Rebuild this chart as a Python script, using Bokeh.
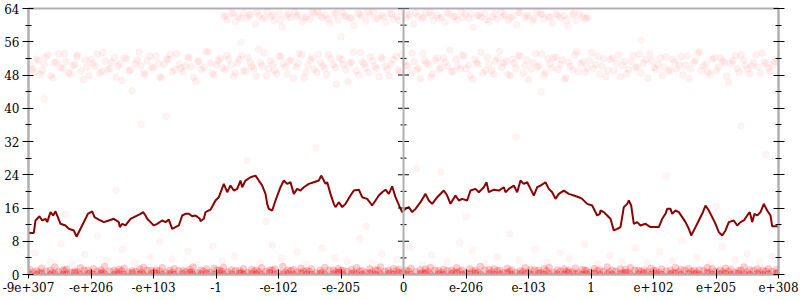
from bokeh.plotting import figure
from bokeh.models import Range1d, FixedTicker, LinearAxis, Span
from bokeh.embed import file_html
from bokeh.resources import INLINE

# ---------------- data ----------------
tick_labels = ["-9e+307", "-e+206", "-e+103", "-1", "-e-102", "-e-205", "0",
               "e-206", "e-103", "1", "e+102", "e+205", "e+308"]
y_ticks = [0, 8, 16, 24, 32, 40, 48, 56, 64]
y_minor = [4, 12, 20, 28, 36, 44, 52, 60]

# smoothed (running) series, x in tick-index units
line_x = [0, 0.085, 0.112, 0.176, 0.219, 0.272, 0.299, 0.352, 0.395, 0.432, 0.469, 0.512,
          0.592, 0.645, 0.725, 0.768, 0.832, 0.912, 0.949, 1.019, 1.056, 1.125, 1.205, 1.285,
          1.365, 1.445, 1.461, 1.499, 1.552, 1.632, 1.712, 1.792, 1.835, 1.872, 1.899, 1.952,
          2.005, 2.059, 2.139, 2.192, 2.245, 2.299, 2.352, 2.405, 2.459, 2.512, 2.565, 2.619,
          2.672, 2.741, 2.752, 2.805, 2.832, 2.912, 2.992, 3.045, 3.125, 3.179, 3.232, 3.285,
          3.339, 3.392, 3.419, 3.472, 3.552, 3.632, 3.685, 3.739, 3.792, 3.819, 3.845, 3.899,
          3.952, 4.032, 4.085, 4.139, 4.192, 4.245, 4.299, 4.352, 4.405, 4.485, 4.565, 4.645,
          4.683, 4.725, 4.752, 4.779, 4.832, 4.885, 4.912, 4.965, 5.019, 5.072, 5.152, 5.205,
          5.285, 5.339, 5.419, 5.499, 5.552, 5.605, 5.659, 5.712, 5.765, 5.819, 5.872, 5.941,
          5.979, 6.032, 6.085, 6.139, 6.192, 6.272, 6.352, 6.405, 6.459, 6.539, 6.645, 6.699,
          6.752, 6.832, 6.885, 6.939, 7.019, 7.072, 7.152, 7.205, 7.285, 7.328, 7.365, 7.445,
          7.525, 7.605, 7.632, 7.685, 7.765, 7.819, 7.872, 7.925, 7.979, 8.032, 8.085, 8.139,
          8.192, 8.272, 8.325, 8.379, 8.432, 8.485, 8.565, 8.645, 8.725, 8.805, 8.859, 8.939,
          9.019, 9.099, 9.141, 9.152, 9.205, 9.259, 9.312, 9.365, 9.419, 9.472, 9.525, 9.579,
          9.605, 9.643, 9.685, 9.739, 9.792, 9.872, 9.952, 10.032, 10.085, 10.139, 10.192, 10.219,
          10.272, 10.299, 10.352, 10.405, 10.459, 10.512, 10.565, 10.603, 10.672, 10.725, 10.779, 10.832,
          10.885, 10.939, 10.992, 11.045, 11.099, 11.152, 11.205, 11.285, 11.339, 11.392, 11.445, 11.499,
          11.541, 11.579, 11.616, 11.659, 11.712, 11.765, 11.819, 11.872, 11.899, 12.0]
line_y = [10.0, 10.0, 13.0, 14.0, 13.0, 13.4, 12.6, 15.0, 14.2, 15.2, 13.8, 12.2,
          11.8, 11.0, 10.6, 9.1, 11.0, 13.4, 14.6, 15.2, 13.8, 13.2, 12.6, 13.0,
          13.4, 12.6, 11.4, 12.2, 11.8, 13.4, 14.0, 14.6, 15.0, 14.2, 13.4, 12.6,
          11.8, 12.2, 13.0, 12.6, 13.2, 11.0, 11.4, 11.8, 14.2, 14.6, 14.6, 14.0,
          14.2, 13.4, 12.8, 13.4, 15.0, 15.6, 17.8, 18.6, 21.8, 19.8, 21.4, 20.2,
          20.6, 22.6, 21.0, 22.6, 23.4, 23.8, 22.6, 21.4, 19.4, 17.0, 15.8, 15.4,
          17.8, 21.0, 22.6, 21.8, 22.2, 19.4, 20.6, 20.2, 21.0, 21.8, 22.2, 22.6,
          23.8, 22.6, 21.8, 22.2, 19.4, 17.0, 16.2, 17.4, 16.2, 17.0, 19.0, 20.2,
          20.4, 18.6, 18.2, 16.6, 17.8, 19.0, 19.8, 20.4, 19.4, 21.2, 18.6, 16.2,
          15.0, 15.8, 16.2, 15.0, 15.8, 17.4, 19.4, 17.8, 17.0, 18.6, 20.2, 19.0,
          17.0, 19.0, 17.8, 18.2, 17.8, 20.2, 20.6, 19.8, 21.0, 22.2, 19.8, 20.4,
          20.2, 21.0, 19.8, 20.6, 21.4, 19.8, 22.6, 21.8, 22.2, 20.6, 19.0, 21.0,
          21.4, 22.2, 20.6, 19.8, 18.2, 19.4, 20.2, 19.4, 19.0, 18.6, 18.2, 17.0,
          16.6, 14.2, 14.6, 15.4, 15.0, 14.2, 13.4, 10.6, 11.0, 11.4, 16.2, 17.0,
          17.8, 16.6, 12.2, 12.6, 11.8, 12.2, 11.4, 11.4, 11.4, 13.4, 14.6, 15.8,
          15.8, 14.6, 15.4, 15.0, 13.8, 12.6, 11.0, 9.4, 11.4, 13.0, 14.6, 16.6,
          15.4, 13.8, 12.2, 10.2, 9.4, 10.6, 12.6, 13.0, 11.8, 12.6, 13.0, 14.2,
          15.0, 12.6, 14.6, 14.2, 15.0, 17.0, 15.4, 14.2, 11.6, 11.6]

# dense band of samples near zero
low_x = [0.02, 0.13, 0.21, 0.35, 0.42, 0.55, 0.61, 0.74, 0.83, 0.95, 1.04, 1.16, 1.22, 1.37, 1.45,
         1.53, 1.66, 1.78, 1.84, 1.97, 2.05, 2.14, 2.26, 2.33, 2.47, 2.58, 2.63, 2.76, 2.85, 2.97,
         3.06, 3.12, 3.25, 3.38, 3.44, 3.57, 3.65, 3.73, 3.86, 3.94, 4.07, 4.15, 4.24, 4.36, 4.45,
         4.53, 4.67, 4.74, 4.88, 4.96, 5.03, 5.17, 5.25, 5.34, 5.46, 5.55, 5.63, 5.76, 5.84, 5.93,
         6.04, 6.12, 6.27, 6.35, 6.43, 6.56, 6.64, 6.77, 6.85, 6.94, 7.06, 7.15, 7.23, 7.37, 7.45,
         7.54, 7.66, 7.73, 7.87, 7.95, 8.04, 8.16, 8.25, 8.33, 8.46, 8.57, 8.64, 8.75, 8.86, 8.93,
         9.05, 9.14, 9.26, 9.34, 9.47, 9.55, 9.63, 9.76, 9.85, 9.96, 10.04, 10.13, 10.27, 10.35, 10.44,
         10.56, 10.65, 10.73, 10.86, 10.94, 11.07, 11.15, 11.24, 11.36, 11.45, 11.54, 11.66, 11.75, 11.84, 11.97]
low_y0 = [0.1, 0.0, 0.3, 0.0, 0.2, 0.0, 0.1, 0.4, 0.0, 0.2, 0.0, 0.3, 0.1, 0.0, 0.2,
          0.0, 0.4, 0.1, 0.0, 0.2, 0.3, 0.0, 0.1, 0.0, 0.2, 0.4, 0.0, 0.1, 0.3, 0.0,
          0.2, 0.0, 0.1, 0.3, 0.0, 0.2, 0.1, 0.0, 0.4, 0.0, 0.1, 0.2, 0.0, 0.3, 0.1,
          0.0, 0.2, 0.0, 0.1, 0.4, 0.0, 0.2, 0.1, 0.0, 0.3, 0.0, 0.1, 0.2, 0.0, 0.4,
          0.1, 0.0, 0.2, 0.3, 0.0, 0.1, 0.0, 0.2, 0.4, 0.0, 0.1, 0.3, 0.0, 0.2, 0.0,
          0.1, 0.4, 0.0, 0.2, 0.1, 0.0, 0.3, 0.0, 0.2, 0.1, 0.0, 0.4, 0.1, 0.0, 0.2,
          0.3, 0.0, 0.1, 0.0, 0.2, 0.4, 0.0, 0.1, 0.3, 0.0, 0.2, 0.0, 0.1, 0.3, 0.0,
          0.2, 0.1, 0.0, 0.4, 0.0, 0.1, 0.2, 0.0, 0.3, 0.1, 0.0, 0.2, 0.0, 0.1, 0.3]
low_y1 = [1.2, 0.9, 1.5, 1.0, 1.8, 1.1, 1.3, 0.8, 1.6, 1.0, 1.4, 1.1, 1.9, 1.0, 1.2,
          1.5, 0.9, 1.3, 1.7, 1.0, 1.1, 1.6, 1.0, 1.4, 0.9, 1.2, 1.8, 1.0, 1.3, 1.5,
          1.0, 1.7, 1.1, 0.9, 1.4, 1.2, 1.0, 1.6, 1.1, 1.3, 1.9, 1.0, 1.2, 1.5, 0.9,
          1.3, 1.0, 1.7, 1.1, 1.4, 1.0, 1.2, 1.6, 0.9, 1.3, 1.1, 1.8, 1.0, 1.4, 1.2,
          1.0, 1.5, 1.1, 1.3, 1.7, 0.9, 1.2, 1.0, 1.6, 1.1, 1.4, 1.0, 1.9, 1.2, 1.3,
          1.0, 1.5, 1.1, 0.9, 1.6, 1.2, 1.0, 1.4, 1.7, 1.1, 1.3, 1.0, 1.5, 1.2, 0.9,
          1.4, 1.1, 1.8, 1.0, 1.3, 1.2, 1.6, 1.0, 1.1, 1.5, 0.9, 1.3, 1.0, 1.7, 1.2,
          1.4, 1.0, 1.1, 1.6, 1.3, 1.0, 1.5, 1.2, 0.9, 1.8, 1.1, 1.3, 1.0, 1.4, 1.2]
low_x2 = [0.07, 0.17, 0.28, 0.38, 0.48, 0.58, 0.68, 0.78, 0.89, 0.99, 1.1, 1.19, 1.3, 1.41, 1.49,
          1.6, 1.72, 1.81, 1.9, 2.01, 2.1, 2.2, 2.3, 2.4, 2.52, 2.61, 2.7, 2.8, 2.91, 3.02,
          3.09, 3.19, 3.31, 3.41, 3.5, 3.61, 3.69, 3.8, 3.9, 4.0, 4.11, 4.2, 4.3, 4.4, 4.49,
          4.6, 4.7, 4.81, 4.92, 5.0, 5.1, 5.21, 5.3, 5.4, 5.5, 5.59, 5.7, 5.8, 5.89, 5.99,
          6.08, 6.2, 6.31, 6.39, 6.5, 6.6, 6.7, 6.81, 6.9, 7.0, 7.1, 7.19, 7.3, 7.41, 7.5,
          7.6, 7.7, 7.8, 7.91, 8.0, 8.1, 8.2, 8.29, 8.4, 8.51, 8.6, 8.7, 8.8, 8.9, 8.99,
          9.1, 9.2, 9.3, 9.4, 9.51, 9.59, 9.7, 9.8, 9.9, 10.0, 10.09, 10.2, 10.31, 10.4, 10.5,
          10.6, 10.69, 10.8, 10.9, 11.0, 11.11, 11.2, 11.3, 11.4, 11.5, 11.6, 11.7, 11.8, 11.9, 11.99]
low_y2 = [0.6, 0.5, 0.8, 0.4, 0.7, 0.9, 0.5, 0.6, 1.0, 0.4, 0.7, 0.5, 0.8, 0.6, 0.9,
          0.4, 0.7, 0.5, 1.0, 0.6, 0.8, 0.4, 0.5, 0.9, 0.7, 0.6, 0.4, 0.8, 0.5, 1.0,
          0.7, 0.6, 0.9, 0.4, 0.5, 0.8, 0.6, 0.7, 1.0, 0.4, 0.5, 0.9, 0.6, 0.8, 0.7,
          0.4, 0.5, 1.0, 0.6, 0.9, 0.7, 0.4, 0.8, 0.5, 0.6, 1.0, 0.7, 0.4, 0.9, 0.5,
          0.8, 0.6, 0.4, 0.7, 1.0, 0.5, 0.9, 0.6, 0.8, 0.4, 0.7, 0.5, 1.0, 0.6, 0.9,
          0.4, 0.8, 0.5, 0.7, 0.6, 1.0, 0.4, 0.9, 0.5, 0.8, 0.7, 0.6, 0.4, 1.0, 0.5,
          0.9, 0.7, 0.6, 0.8, 0.4, 0.5, 1.0, 0.7, 0.6, 0.9, 0.4, 0.8, 0.5, 0.6, 1.0,
          0.7, 0.4, 0.9, 0.5, 0.8, 0.6, 0.7, 0.4, 1.0, 0.5, 0.9, 0.6, 0.8, 0.7, 0.4]

# band of samples around 48-54
mid_x = [0.03, 0.09, 0.16, 0.22, 0.27, 0.36, 0.41, 0.48, 0.55, 0.6, 0.67, 0.74, 0.79, 0.88, 0.93,
         1.0, 1.06, 1.14, 1.19, 1.27, 1.33, 1.4, 1.46, 1.53, 1.61, 1.66, 1.74, 1.8, 1.87, 1.94,
         2.0, 2.08, 2.13, 2.21, 2.27, 2.34, 2.41, 2.47, 2.55, 2.6, 2.68, 2.73, 2.81, 2.88, 2.94,
         3.01, 3.07, 3.15, 3.2, 3.28, 3.34, 3.41, 3.47, 3.55, 3.6, 3.68, 3.74, 3.81, 3.87, 3.94,
         4.01, 4.07, 4.14, 4.2, 4.28, 4.33, 4.41, 4.47, 4.54, 4.61, 4.67, 4.74, 4.8, 4.88, 4.93,
         5.01, 5.07, 5.14, 5.2, 5.28, 5.34, 5.4, 5.47, 5.54, 5.61, 5.66, 5.74, 5.8, 5.88, 5.94,
         6.01, 6.07, 6.14, 6.21, 6.27, 6.34, 6.41, 6.46, 6.54, 6.6, 6.67, 6.74, 6.8, 6.87, 6.94,
         7.0, 7.07, 7.14, 7.2, 7.27, 7.34, 7.41, 7.47, 7.54, 7.6, 7.67, 7.74, 7.8, 7.87, 7.94,
         8.0, 8.07, 8.14, 8.21, 8.27, 8.34, 8.4, 8.47, 8.54, 8.6, 8.67, 8.74, 8.8, 8.87, 8.94,
         9.01, 9.07, 9.14, 9.2, 9.27, 9.34, 9.41, 9.47, 9.53, 9.6, 9.67, 9.74, 9.8, 9.87, 9.94,
         10.01, 10.07, 10.14, 10.2, 10.27, 10.34, 10.41, 10.47, 10.54, 10.6, 10.67, 10.74, 10.8, 10.87, 10.94,
         11.0, 11.07, 11.14, 11.2, 11.27, 11.34, 11.4, 11.47, 11.54, 11.6, 11.67, 11.74, 11.8, 11.87, 11.94]
mid_y = [50.2, 48.7, 51.5, 49.1, 52.3, 47.8, 50.9, 53.1, 49.6, 51.2, 48.3, 50.5, 52.8, 46.9, 49.9,
         51.7, 50.1, 48.5, 53.4, 49.3, 51.0, 47.5, 50.7, 52.1, 49.0, 44.2, 51.6, 50.3, 48.1, 52.6,
         49.7, 50.8, 47.2, 51.9, 53.0, 49.4, 50.6, 48.8, 52.4, 50.0, 46.5, 51.3, 49.8, 53.6, 48.4,
         50.4, 52.0, 49.2, 51.8, 47.7, 50.9, 52.7, 48.9, 51.1, 49.5, 54.2, 50.2, 47.9, 51.4, 49.1,
         52.5, 50.7, 48.2, 51.6, 49.9, 53.2, 47.4, 50.3, 52.2, 48.6, 51.0, 49.6, 52.9, 50.5, 45.8,
         51.7, 49.3, 50.8, 53.5, 48.0, 51.2, 49.7, 52.4, 50.1, 47.6, 51.9, 49.4, 50.6, 52.6, 48.7,
         51.3, 50.0, 53.3, 49.2, 47.1, 51.5, 50.4, 48.3, 52.1, 49.8, 51.1, 54.0, 48.9, 50.2, 52.8,
         49.5, 47.8, 51.7, 50.6, 48.4, 52.3, 49.0, 51.4, 53.7, 50.9, 48.1, 51.8, 49.6, 52.5, 50.3,
         46.8, 51.0, 49.9, 53.0, 48.6, 50.7, 52.2, 49.3, 51.6, 47.3, 50.1, 52.9, 48.8, 51.2, 49.7,
         53.4, 50.5, 48.2, 51.9, 49.1, 52.0, 50.8, 47.6, 51.3, 49.4, 52.7, 50.0, 48.5, 51.7, 53.1,
         49.8, 50.6, 47.9, 52.4, 49.2, 51.1, 50.4, 48.0, 52.6, 49.5, 51.5, 53.6, 50.2, 48.7, 51.8,
         49.0, 52.1, 50.9, 46.2, 51.4, 49.6, 52.8, 50.3, 48.3, 51.0, 49.9, 53.3, 50.7, 48.9, 51.2]
mid2_x = [0.06, 0.12, 0.19, 0.25, 0.31, 0.39, 0.45, 0.51, 0.58, 0.64, 0.71, 0.77, 0.84, 0.91, 0.97,
          1.03, 1.1, 1.17, 1.23, 1.3, 1.37, 1.43, 1.5, 1.57, 1.63, 1.7, 1.77, 1.84, 1.9, 1.97,
          2.04, 2.1, 2.17, 2.24, 2.3, 2.37, 2.44, 2.51, 2.57, 2.64, 2.71, 2.77, 2.84, 2.91, 2.97,
          3.04, 3.11, 3.17, 3.24, 3.31, 3.37, 3.44, 3.51, 3.57, 3.64, 3.71, 3.77, 3.84, 3.91, 3.97,
          4.04, 4.11, 4.17, 4.24, 4.31, 4.37, 4.44, 4.51, 4.57, 4.64, 4.71, 4.77, 4.84, 4.91, 4.97,
          5.04, 5.11, 5.17, 5.24, 5.31, 5.37, 5.44, 5.51, 5.57, 5.64, 5.71, 5.77, 5.84, 5.91, 5.97,
          6.04, 6.11, 6.17, 6.24, 6.31, 6.37, 6.44, 6.51, 6.57, 6.64, 6.71, 6.77, 6.84, 6.91, 6.97,
          7.04, 7.11, 7.17, 7.24, 7.31, 7.37, 7.44, 7.51, 7.57, 7.64, 7.71, 7.77, 7.84, 7.91, 7.97,
          8.04, 8.11, 8.17, 8.24, 8.31, 8.37, 8.44, 8.51, 8.57, 8.64, 8.71, 8.77, 8.84, 8.91, 8.97,
          9.04, 9.11, 9.17, 9.24, 9.31, 9.37, 9.44, 9.51, 9.57, 9.64, 9.71, 9.77, 9.84, 9.91, 9.97,
          10.04, 10.11, 10.17, 10.24, 10.31, 10.37, 10.44, 10.51, 10.57, 10.64, 10.71, 10.77, 10.84, 10.91, 10.97,
          11.04, 11.11, 11.17, 11.24, 11.31, 11.37, 11.44, 11.51, 11.57, 11.64, 11.71, 11.77, 11.84, 11.91, 11.97]
mid2_y = [49.4, 51.8, 48.2, 50.6, 52.9, 47.3, 51.1, 49.8, 53.2, 48.6, 50.3, 52.4, 49.0, 51.6, 47.9,
          50.8, 53.0, 48.9, 51.3, 49.5, 52.2, 50.1, 46.7, 51.9, 49.2, 50.7, 53.5, 48.4, 51.4, 49.9,
          52.6, 47.6, 50.5, 51.7, 48.8, 53.1, 49.6, 50.2, 52.0, 47.4, 51.2, 49.3, 53.6, 50.9, 48.0,
          51.5, 49.7, 52.7, 50.4, 48.5, 51.8, 49.1, 52.3, 50.0, 47.7, 51.0, 53.3, 49.5, 50.6, 48.3,
          52.5, 49.9, 51.3, 47.2, 50.8, 52.8, 48.7, 51.6, 49.4, 53.0, 50.2, 48.1, 51.9, 49.8, 52.1,
          50.5, 46.4, 51.1, 49.0, 53.4, 50.7, 48.6, 51.4, 49.6, 52.4, 50.1, 47.8, 51.7, 49.2, 52.9,
          50.3, 48.4, 51.2, 49.7, 53.1, 50.9, 47.5, 51.5, 49.3, 52.2, 50.0, 48.8, 51.8, 49.5, 52.6,
          50.4, 47.0, 51.0, 53.5, 49.1, 50.6, 48.2, 52.0, 49.9, 51.3, 47.9, 50.8, 52.7, 48.5, 51.6,
          49.4, 53.2, 50.2, 48.0, 51.9, 49.7, 52.3, 50.5, 46.9, 51.1, 49.2, 53.6, 50.7, 48.7, 51.4,
          49.6, 52.5, 50.1, 47.6, 51.7, 49.0, 52.8, 50.3, 48.3, 51.2, 49.8, 53.0, 50.9, 47.3, 51.5,
          49.3, 52.1, 50.0, 48.9, 51.8, 49.5, 52.4, 50.4, 47.1, 51.0, 53.3, 49.1, 50.6, 48.1, 52.2,
          49.9, 51.3, 47.7, 50.8, 52.6, 48.6, 51.6, 49.4, 50.2, 52.9, 48.4, 51.1, 49.7, 50.5, 51.9]

# band of samples near the top (between -1 and 1)
top_x = [3.12, 3.18, 3.25, 3.31, 3.36, 3.44, 3.5, 3.55, 3.63, 3.69, 3.74, 3.82, 3.88, 3.93, 4.01,
         4.06, 4.13, 4.19, 4.26, 4.31, 4.38, 4.45, 4.5, 4.57, 4.63, 4.7, 4.76, 4.82, 4.89, 4.95,
         5.02, 5.08, 5.14, 5.21, 5.27, 5.33, 5.4, 5.46, 5.52, 5.59, 5.65, 5.71, 5.78, 5.84, 5.9,
         5.97, 6.04, 6.1, 6.16, 6.23, 6.29, 6.35, 6.42, 6.48, 6.54, 6.61, 6.67, 6.73, 6.8, 6.86,
         6.92, 6.99, 7.05, 7.11, 7.18, 7.24, 7.3, 7.37, 7.43, 7.49, 7.56, 7.62, 7.68, 7.75, 7.81,
         7.87, 7.94, 8.0, 8.06, 8.13, 8.19, 8.25, 8.32, 8.38, 8.44, 8.51, 8.57, 8.63, 8.7, 8.76,
         8.82, 8.9, 8.96]
top_y = [62.4, 61.3, 62.9, 60.8, 62.1, 63.0, 61.7, 62.6, 60.2, 62.3, 61.5, 63.2, 62.0, 61.1, 62.7,
         59.6, 62.2, 61.8, 63.1, 62.5, 60.9, 62.0, 61.4, 62.8, 63.3, 61.9, 62.4, 60.5, 62.6, 61.2,
         63.0, 62.2, 61.6, 59.9, 62.9, 62.1, 61.0, 62.5, 63.2, 61.7, 62.3, 60.6, 62.8, 61.4, 62.0,
         63.1, 61.8, 62.5, 60.3, 62.2, 61.5, 62.9, 63.0, 61.1, 62.4, 61.9, 60.7, 62.6, 62.1, 61.3,
         63.2, 62.7, 61.6, 59.4, 62.3, 61.9, 62.8, 60.9, 62.0, 61.4, 63.1, 62.5, 61.2, 62.2, 60.1,
         62.9, 61.7, 62.4, 61.0, 63.0, 62.6, 61.5, 62.1, 60.4, 62.8, 61.8, 62.3, 59.8, 62.5, 61.1,
         62.7, 61.6, 62.0]
top2_x = [3.15, 3.28, 3.4, 3.53, 3.66, 3.78, 3.91, 4.03, 4.16, 4.29, 4.41, 4.54, 4.66, 4.79, 4.92,
          5.05, 5.17, 5.3, 5.43, 5.55, 5.68, 5.81, 5.93, 6.07, 6.19, 6.32, 6.45, 6.57, 6.7, 6.83,
          6.95, 7.08, 7.21, 7.33, 7.46, 7.59, 7.71, 7.84, 7.97, 8.09, 8.22, 8.35, 8.47, 8.6, 8.73,
          8.86, 8.93]
top2_y = [62.0, 62.7, 61.6, 62.3, 63.0, 61.9, 62.5, 61.2, 62.8, 62.1, 61.7, 63.1, 62.4, 61.5, 62.9,
          62.2, 61.8, 62.6, 63.2, 61.4, 62.0, 62.7, 61.1, 62.5, 62.9, 61.9, 62.3, 61.6, 63.0, 62.1,
          61.8, 62.6, 62.4, 61.3, 62.8, 62.0, 61.7, 63.1, 62.2, 61.5, 62.7, 61.9, 62.4, 61.2, 62.9,
          62.1, 61.6]

# scattered samples elsewhere
sparse_x = [0.1, 0.35, 0.52, 0.7, 0.9, 1.1, 1.25, 1.5, 1.7, 1.95, 2.1, 2.3, 2.55, 2.7, 2.95,
            3.1, 3.3, 3.5, 3.7, 3.9, 4.05, 4.3, 4.45, 4.7, 4.9, 5.1, 5.3, 5.5, 5.65, 5.9,
            6.1, 6.3, 6.45, 6.7, 6.9, 7.1, 7.3, 7.5, 7.7, 7.85, 8.1, 8.3, 8.5, 8.65, 8.9,
            9.1, 9.3, 9.5, 9.7, 9.9, 10.1, 10.3, 10.45, 10.7, 10.9, 11.1, 11.3, 11.5, 11.7, 11.9,
            0.6, 1.4, 2.2, 3.0, 3.8, 4.6, 5.4, 6.2, 7.0, 7.8, 8.6, 9.4, 10.2, 11.0, 11.8,
            0.25, 1.8, 3.4, 5.0, 6.6, 8.2, 9.8, 11.4]
sparse_y = [5.2, 3.1, 7.4, 2.6, 4.8, 9.3, 3.5, 6.1, 2.9, 4.2, 8.0, 3.7, 5.6, 2.4, 6.8,
            3.3, 4.5, 27.5, 2.8, 7.1, 3.9, 5.4, 2.5, 6.3, 4.0, 3.2, 8.6, 2.7, 5.0, 3.6,
            6.6, 2.3, 4.7, 3.0, 7.7, 5.8, 2.6, 4.3, 9.8, 3.4, 6.0, 2.9, 5.2, 3.8, 7.3,
            2.5, 4.6, 3.1, 6.4, 2.8, 5.5, 3.3, 8.2, 4.1, 2.6, 6.7, 3.5, 5.0, 2.9, 4.4,
            14.5, 20.3, 38.0, 17.2, 12.8, 30.5, 11.6, 25.4, 13.9, 33.1, 19.6, 10.8, 23.7, 16.4, 28.9,
            42.3, 36.1, 55.8, 57.2, 24.6, 44.0, 56.4, 35.7]

# ---------------- figure ----------------
FONT = "DejaVu Serif"
GRAY = "#b0b0b0"

p = figure(width=800, height=300, output_backend="svg", toolbar_location=None,
           x_range=Range1d(0, len(tick_labels) - 1), y_range=Range1d(y_ticks[0], y_ticks[-1]),
           min_border_left=28, min_border_right=22, min_border_top=8, min_border_bottom=26)
p.grid.visible = False
p.outline_line_color = GRAY
p.outline_line_width = 2
p.background_fill_color = "white"
p.border_fill_color = "white"

def pts(xs, ys, alpha, size=7):
    n = min(len(xs), len(ys))
    p.scatter(xs[:n], ys[:n], size=size, fill_color="red", line_color="red",
              fill_alpha=alpha, line_alpha=alpha * 0.5)

pts(sparse_x, sparse_y, 0.045)
pts(mid_x, mid_y, 0.055)
pts(mid2_x, mid2_y, 0.055)
pts(top_x, top_y, 0.05)
pts(top2_x, top2_y, 0.05)
pts(low_x, low_y1, 0.18)
pts(low_x2, low_y2, 0.2)
pts(low_x, low_y0, 0.28)

p.line(line_x[:len(line_y)], line_y[:len(line_x)], line_color="#8b0000", line_width=2)

# bottom axis
xa = p.xaxis[0]
xa.ticker = FixedTicker(ticks=list(range(len(tick_labels))))
xa.major_label_overrides = {i: t for i, t in enumerate(tick_labels)}
xa.axis_line_color = GRAY
xa.axis_line_width = 2
xa.major_tick_in = 5
xa.major_tick_out = 4
xa.major_tick_line_color = "black"
xa.minor_tick_line_color = None
xa.major_label_text_font = FONT
xa.major_label_text_font_size = "12px"
xa.major_label_text_color = "black"
xa.major_label_standoff = 3

def style_y(ax, labels=True):
    ax.ticker = FixedTicker(ticks=y_ticks, minor_ticks=y_minor)
    ax.axis_line_color = GRAY
    ax.axis_line_width = 2
    ax.major_tick_in = 5
    ax.major_tick_out = 6
    ax.minor_tick_in = 3
    ax.minor_tick_out = 3
    ax.major_tick_line_color = "black"
    ax.minor_tick_line_color = "black"
    ax.major_label_text_font = FONT
    ax.major_label_text_font_size = "12px"
    ax.major_label_text_color = "black"
    ax.major_label_standoff = 3
    if not labels:
        ax.major_label_overrides = {t: "" for t in y_ticks}

style_y(p.yaxis[0])
ra = LinearAxis()
style_y(ra, labels=False)
p.add_layout(ra, "right")

# central axis at x = "0"
cx = tick_labels.index("0")
p.add_layout(Span(location=cx, dimension="height", line_color=GRAY, line_width=2))
p.scatter([cx] * len(y_ticks), y_ticks, marker="dash", size=11, line_color="black", line_width=1)
p.scatter([cx] * len(y_minor), y_minor, marker="dash", size=6, line_color="black", line_width=1)

open("out.html", "w").write(file_html(p, INLINE))
